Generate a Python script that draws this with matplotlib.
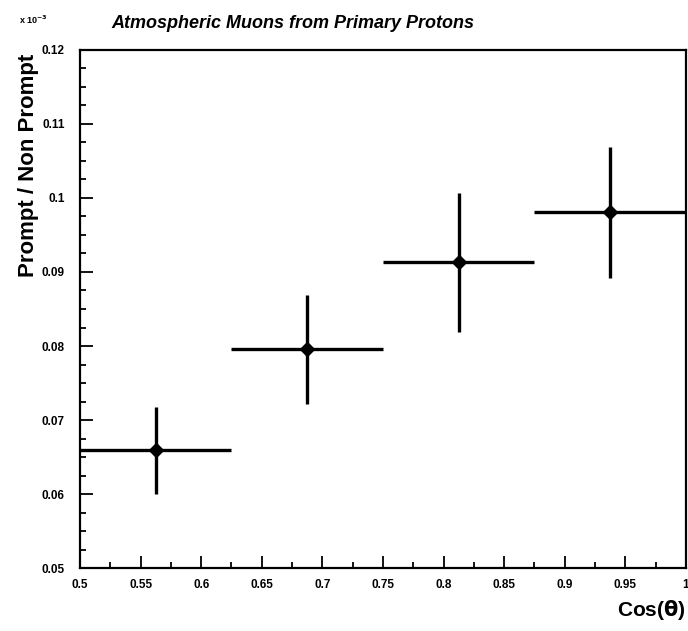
import numpy as np
import matplotlib
matplotlib.use("Agg")
import matplotlib.pyplot as plt
from matplotlib.ticker import MultipleLocator, FuncFormatter

plt.rcParams['font.family'] = ['Liberation Sans', 'DejaVu Sans']

# bins in cos(theta)
bin_lo = [0.5, 0.625, 0.75, 0.875]
bin_hi = [0.625, 0.75, 0.875, 1.0]
ratio = [0.0659, 0.0796, 0.0914, 0.0981]
err_hi = [0.0718, 0.0869, 0.1007, 0.1069]
err_lo = [0.0600, 0.0722, 0.0819, 0.0892]

xc = [(a + b) / 2 for a, b in zip(bin_lo, bin_hi)]
xerr = [(b - a) / 2 for a, b in zip(bin_lo, bin_hi)]
yerr = [[r - l for r, l in zip(ratio, err_lo)], [h - r for r, h in zip(ratio, err_hi)]]

fig = plt.figure(figsize=(6.88, 6.31), dpi=100)
ax = fig.add_axes([0.1163, 0.0998, 0.8807, 0.821])

ax.errorbar(xc, ratio, xerr=xerr, yerr=yerr, fmt='D', color='black',
            markersize=7.5, elinewidth=2.4, capsize=0)

ax.set_xlim(0.5, 1.0)
ax.set_ylim(0.05, 0.12)
ax.xaxis.set_major_locator(MultipleLocator(0.05))
ax.xaxis.set_minor_locator(MultipleLocator(0.025))
ax.yaxis.set_major_locator(MultipleLocator(0.01))
ax.yaxis.set_minor_locator(MultipleLocator(0.0025))
fmt = FuncFormatter(lambda v, p: '%g' % round(v, 4))
ax.xaxis.set_major_formatter(fmt)
ax.yaxis.set_major_formatter(fmt)

ax.tick_params(which='both', direction='in', top=False, right=False, width=1.3)
ax.tick_params(which='major', length=9, labelsize=8.5)
ax.tick_params(axis='y', which='major', pad=11)
ax.tick_params(axis='x', which='major', pad=8)
ax.tick_params(which='minor', length=4.5)
for lab in ax.get_xticklabels() + ax.get_yticklabels():
    lab.set_fontweight('heavy')
for s in ax.spines.values():
    s.set_linewidth(1.6)

fig.text(0.426, 0.963, 'Atmospheric Muons from Primary Protons', ha='center', va='center',
         fontsize=13, fontweight='heavy', fontstyle='italic')
fig.text(0.027, 0.968, r'x 10$^{\mathbf{-3}}$', ha='left', va='center', fontsize=6.5, fontweight='bold')
fig.text(0.042, 0.738, 'Prompt / Non Prompt', rotation=90, ha='center', va='center',
         fontsize=16, fontweight='heavy')
fig.text(0.997, 0.034, r'Cos($\mathbf{\theta}$)', ha='right', va='center',
         fontsize=15, fontweight='heavy')

fig.savefig('out.png', dpi=100)
